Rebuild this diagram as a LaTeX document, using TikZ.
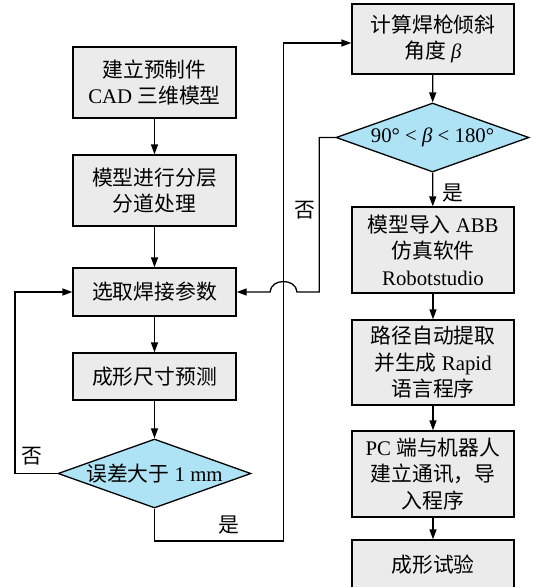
\documentclass[tikz,border=0pt]{standalone}
\usepackage{fontspec}
\setmainfont{Liberation Serif}
\newfontfamily\cjk{Noto Sans CJK SC}
\usetikzlibrary{shapes.geometric,arrows.meta}
\definecolor{boxgray}{RGB}{235,235,235}
\definecolor{dblue}{RGB}{174,227,245}
\newcommand\zh[1]{{\cjk #1}}
\begin{document}
\begin{tikzpicture}[x=1pt,y=-1pt,
  font=\fontsize{20.8}{26.5}\selectfont,
  box/.style={draw,fill=boxgray,line width=1.3pt,align=center,inner sep=0pt},
  dec/.style={draw,fill=dblue,diamond,line width=1.3pt,inner sep=0pt,aspect=1},
  arr/.style={line width=1.3pt,-{Triangle[length=10pt,width=7pt]}},
  lbl/.style={inner sep=0pt}]
\clip (0,0) rectangle (533,587);
% left column
\node[box,minimum width=163,minimum height=71] (b1) at (154.5,82.5) {\zh{建立预制件}\\CAD \zh{三维模型}};
\node[box,minimum width=163,minimum height=71] (b2) at (154.5,190.5) {\zh{模型进行分层}\\\zh{分道处理}};
\node[box,minimum width=163,minimum height=48] (b3) at (154.5,292) {\zh{选取焊接参数}};
\node[box,minimum width=163,minimum height=47] (b4) at (154.5,376.5) {\zh{成形尺寸预测}};
\node[dec,minimum width=193,minimum height=69] (d1) at (154.5,473.5) {\makebox[0pt]{\zh{误差大于} 1 mm}};
% right column
\node[box,minimum width=162,minimum height=70] (b5) at (433,39) {\zh{计算焊枪倾斜}\\\zh{角度} \textit{β}};
\node[dec,minimum width=193,minimum height=69] (d2) at (432.5,137.5) {\makebox[0pt]{90° < \textit{β} < 180°}};
\node[box,minimum width=162,minimum height=86] (b6) at (433,250) {\zh{模型导入} ABB\\\zh{仿真软件}\\Robotstudio};
\node[box,minimum width=162,minimum height=85] (b7) at (433,362.5) {\zh{路径自动提取}\\\zh{并生成} Rapid\\\zh{语言程序}};
\node[box,minimum width=162,minimum height=86] (b8) at (433,474) {PC \zh{端与机器人}\\\zh{建立通讯，导}\\\zh{入程序}};
\node[box,minimum width=162,minimum height=50] (b9) at (433,565) {\zh{成形试验}};
% straight arrows
\draw[arr] (b1) -- (b2);
\draw[arr] (b2) -- (b3);
\draw[arr] (b3) -- (b4);
\draw[arr] (b4) -- (d1);
\draw[arr] (b5) -- (d2);
\draw[arr] (d2) -- (b6);
\draw[arr] (b6) -- (b7);
\draw[arr] (b7) -- (b8);
\draw[arr] (b8) -- (b9);
% no loop from d1
\coordinate (nl) at (15,473.5);
\draw[arr] (d1.west) -- (nl) |- (b3.west);
% yes path from d1 to b5
\coordinate (ya) at (154.5,541);
\coordinate (yb) at (283.3,541);
\coordinate (yc) at (283.3,43);
\draw[arr] (d1.south) -- (ya) -- (yb) -- (yc) -- (yc -| b5.west);
% no path from d2 to b3 with jump
\coordinate (na) at (319.3,137.5);
\coordinate (nb) at (319.3,292);
\coordinate (nc) at (297,292);
\coordinate (nd) at (270,292);
\draw[arr] (d2.west) -- (na) -- (nb) -- (nc) .. controls (296,278) and (271,278) .. (nd) -- (b3.east);
% labels
\node[lbl] (l1) at (32,455.7) {\zh{否}};
\node[lbl] (l2) at (229,525) {\zh{是}};
\node[lbl] (l3) at (452.7,192.7) {\zh{是}};
\node[lbl] (l4) at (305,210) {\zh{否}};
\end{tikzpicture}
\end{document}
